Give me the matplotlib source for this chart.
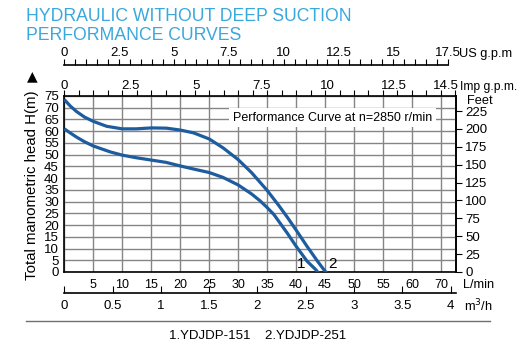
import matplotlib
matplotlib.use("Agg")
import matplotlib.pyplot as plt
from matplotlib.ticker import MultipleLocator

# flow in L/min, head in m
q_251 = [0, 1, 2.1, 3.5, 5, 7.3, 10, 12.4, 15, 17.6, 20, 22.3, 25, 27.4, 30, 32.3, 35, 37, 38.5, 40, 41.9, 43.7, 44.8, 45.3]
h_251 = [73.5, 70.8, 68.4, 66.0, 64.2, 62.1, 61.0, 61.0, 61.4, 61.3, 60.5, 59.3, 56.7, 52.9, 47.9, 42.4, 34.8, 28.4, 23.3, 17.9, 10.9, 4.6, 1.0, -0.5]
q_151 = [0, 1, 2.1, 3.5, 5, 7.9, 10, 12.4, 15, 17.6, 20, 22.8, 25, 27.4, 30, 32.3, 33.8, 35, 36.2, 38.5, 40, 41.9, 43.4, 43.9]
h_151 = [61.0, 59.3, 57.5, 55.5, 53.7, 51.2, 49.8, 48.7, 47.7, 46.7, 45.2, 43.6, 42.4, 40.3, 37.1, 33.3, 30.3, 27.5, 24.4, 16.5, 11.0, 4.6, 1.0, -0.5]

lmin_ticks = [5, 10, 15, 20, 25, 30, 35, 40, 45, 50, 55, 60, 65]
lmin_labels = ['5', '10', '15', '20', '25', '30', '35', '40', '45', '50', '55', '60', '70']
head_ticks = list(range(0, 80, 5))
feet_ticks = list(range(0, 250, 25))
imp_ticks = [0, 2.5, 5, 7.5, 10, 12.5, 14.5]
us_ticks = [0, 2.5, 5, 7.5, 10, 12.5, 15, 17.5]
m3h_ticks = [0, 0.5, 1, 1.5, 2, 2.5, 3, 3.5, 4]

L_PER_IMP = 4.546
L_PER_US = 3.785
L_PER_M3H = 1000 / 60
FT_PER_M = 3.2808

W, H = 519, 349
XMAX = 67.55
curve_col = '#1d5c9e'

plt.rcParams['font.family'] = ['Liberation Sans', 'DejaVu Sans']

fig = plt.figure(figsize=(W / 100, H / 100), dpi=100)

def fx(px):
    return px / W

def fy(py):
    return 1 - py / H

left, right = fx(64.3), fx(455.7)
ax = fig.add_axes([left, fy(272), right - left, fy(96) - fy(272)])
ax.set_xlim(0, XMAX)
ax.set_ylim(0, 75)

ax.plot(q_251, h_251, color=curve_col, lw=2.3, solid_capstyle='butt', solid_joinstyle='round', zorder=4)
ax.plot(q_151, h_151, color=curve_col, lw=2.3, solid_capstyle='butt', solid_joinstyle='round', zorder=4)

ax.set_xticks([0] + lmin_ticks, [''] + lmin_labels)
ax.xaxis.set_minor_locator(MultipleLocator(2.5))
ax.tick_params(axis='x', which='both', top=True, bottom=False, direction='out', length=4,
               width=0.8, labelsize=9, pad=1)
ax.set_yticks(head_ticks)
ax.tick_params(axis='y', length=0, labelsize=9.5, pad=4)
ax.grid(True, color='#858585', lw=1.0)
ax.set_axisbelow(True)
for s in ax.spines.values():
    s.set_linewidth(1.2)

ax.text(0.431, 0.877, 'Performance Curve at n=2850 r/min', transform=ax.transAxes,
        fontsize=9, va='center', ha='left',
        bbox=dict(facecolor='white', edgecolor='none', pad=2.5), zorder=3)
ax.text(40.8, 3.2, '1', fontsize=11, ha='center', va='center', zorder=5)
ax.text(46.3, 3.2, '2', fontsize=11, ha='center', va='center', zorder=5)

# feet on the right
axf = ax.secondary_yaxis('right', functions=(lambda m: m * FT_PER_M, lambda f: f / FT_PER_M))
axf.set_yticks(feet_ticks)
axf.tick_params(length=4, width=0.8, labelsize=9.5, pad=3)
axf.spines['right'].set_linewidth(1.2)

# imperial gallons on top of the plot
axi = ax.secondary_xaxis('top', functions=(lambda l: l / L_PER_IMP, lambda g: g * L_PER_IMP))
axi.set_xticks(imp_ticks, [str(t) for t in imp_ticks])
axi.tick_params(length=0, labelsize=9.5, pad=3)
axi.spines['top'].set_visible(False)

# US gallons, separate scale line
axu = fig.add_axes([left, fy(65.5), right - left, 0.0001])
axu.set_xlim(0, XMAX / L_PER_US)
axu.set_yticks([])
for k in ['left', 'right', 'bottom']:
    axu.spines[k].set_visible(False)
axu.spines['top'].set_bounds(0, 17.5)
axu.spines['top'].set_linewidth(1.2)
axu.patch.set_visible(False)
axu.xaxis.tick_top()
axu.set_xticks(us_ticks, [str(t) for t in us_ticks])
axu.xaxis.set_minor_locator(MultipleLocator(0.5))
axu.tick_params(axis='x', which='both', direction='out', length=4, width=0.8, labelsize=9.5, pad=1)

# m3/h scale line
axm = fig.add_axes([left, fy(293.3), right - left, 0.0001])
axm.set_xlim(0, XMAX / L_PER_M3H)
axm.set_yticks([])
for k in ['left', 'right', 'top']:
    axm.spines[k].set_visible(False)
axm.spines['bottom'].set_linewidth(1.2)
axm.patch.set_visible(False)
axm.set_xticks(m3h_ticks, [str(t) for t in m3h_ticks])
axm.tick_params(axis='x', direction='in', length=5, width=0.8, labelsize=9.5, pad=5)

# unit labels
unit_kw = dict(fontsize=9.2, va='center', ha='left')
fig.text(fx(459), fy(54), 'US g.p.m', **unit_kw)
fig.text(fx(460), fy(87), 'Imp g.p.m.', fontsize=8.7, va='center', ha='left')
fig.text(fx(467), fy(101), 'Feet', **unit_kw)
fig.text(fx(463), fy(284.5), 'L/min', **unit_kw)
fig.text(fx(464), fy(306), 'm$^3$/h', **unit_kw)

fig.text(fx(32), fy(185), 'Total manometric head H(m)', rotation=90, fontsize=10.8,
         ha='center', va='center')
fig.text(fx(32), fy(76), '\u25B2', fontsize=10, family='DejaVu Sans', ha='center', va='center')

title_col = '#3aa8dc'
fig.text(fx(26), fy(16.5), 'HYDRAULIC WITHOUT DEEP SUCTION', fontsize=12.7, color=title_col,
         ha='left', va='center')
fig.text(fx(26), fy(35), 'PERFORMANCE CURVES', fontsize=12.7, color=title_col,
         ha='left', va='center')

fig.add_artist(plt.Line2D([fx(26), fx(490)], [fy(320.7), fy(320.7)], color='#707070', lw=1.0))
fig.text(fx(258), fy(336), '1.YDJDP-151    2.YDJDP-251', fontsize=9.5, ha='center', va='center')

fig.savefig('out.png', dpi=100)
